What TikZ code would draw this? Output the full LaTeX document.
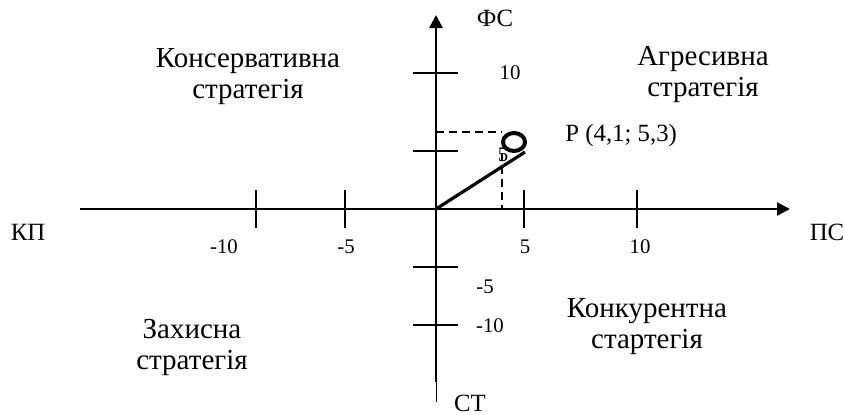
\documentclass[tikz,border=0pt]{standalone}
\usepackage{fontspec}
\setmainfont{Liberation Serif}
\usetikzlibrary{arrows.meta}

\tikzset{
  axisline/.style={line width=1.2pt, -{Triangle[length=6.5pt,width=6.5pt]}},
  tickline/.style={line width=0.8pt},
  guide/.style={line width=0.7pt, dash pattern=on 4pt off 2.5pt},
  quadtext/.style={align=center, inner sep=0pt, font=\fontsize{14.5}{15.5}\selectfont},
  ticklab/.style={inner sep=0pt, font=\fontsize{10.4}{12}\selectfont},
  axlab/.style={inner sep=0pt, font=\fontsize{12.4}{14}\selectfont},
}

\begin{document}
\begin{tikzpicture}[x=0.5pt, y=0.5pt]
    \useasboundingbox (-436,-205) rectangle (409,209);
    % axes
    \coordinate (O) at (0,0);
    \coordinate (W) at (-356,0);
    \coordinate (E) at (354,0);
    \coordinate (S) at (0,-173);
    \coordinate (Sx) at (0,-193);
    \coordinate (N) at (0,194);
    \draw[axisline] (W) -- (E);
    \draw[axisline] (S) -- (N);
    \draw[thin] (S) -- (Sx);
    % ticks on the horizontal axis
    \foreach \i/\x/\lx/\lab in {1/-180/-212/{-10}, 2/-91/-90/{-5}, 3/88/89/{5}, 4/201/204/{10}} {
        \draw[tickline] (\x,19) -- (\x,-19);
        \node[ticklab] (hl\i) at (\lx,-38) {\lab};
    }
    % ticks on the vertical axis
    \foreach \i/\y/\lx/\ly/\lab in {1/136/74/136/{10}, 2/58/67/54/{5}, 3/-58/49/-78/{-5}, 4/-116/54/-117/{-10}} {
        \draw[tickline] (-23,\y) -- (22,\y);
        \node[ticklab] (vl\i) at (\lx,\ly) {\lab};
    }
    % point P
    \coordinate (P) at (89,57);
    \coordinate (Pc) at (78,67);
    \coordinate (Dy) at (0,77);
    \coordinate (Dc) at (66,77);
    \coordinate (Dv) at (66,56);
    \coordinate (Dx) at (66,0);
    \draw[guide] (Dy) -- (Dc);
    \draw[guide] (Dv) -- (Dx);
    \draw[line width=1.6pt] (O) -- (P);
    \draw[line width=2pt] (Pc) ellipse [x radius=5.5pt, y radius=4.5pt];
    \node[axlab, anchor=west] (plab) at (129,73) {P (4,1; 5,3)};
    % axis names
    \node[axlab] (fs) at (59,191) {ФС};
    \node[axlab] (st) at (34,-194) {СТ};
    \node[axlab] (kp) at (-408,-23) {КП};
    \node[axlab] (ps) at (391,-23) {ПС};
    % quadrants
    \node[quadtext] (cons) at (-188,132) {Консервативна\\стратегія};
    \node[quadtext] (agr) at (267,134) {Агресивна\\стратегія};
    \node[quadtext] (zah) at (-244,-138) {Захисна\\стратегія};
    \node[quadtext] (konk) at (211,-118) {Конкурентна\\стартегія};
\end{tikzpicture}
\end{document}
